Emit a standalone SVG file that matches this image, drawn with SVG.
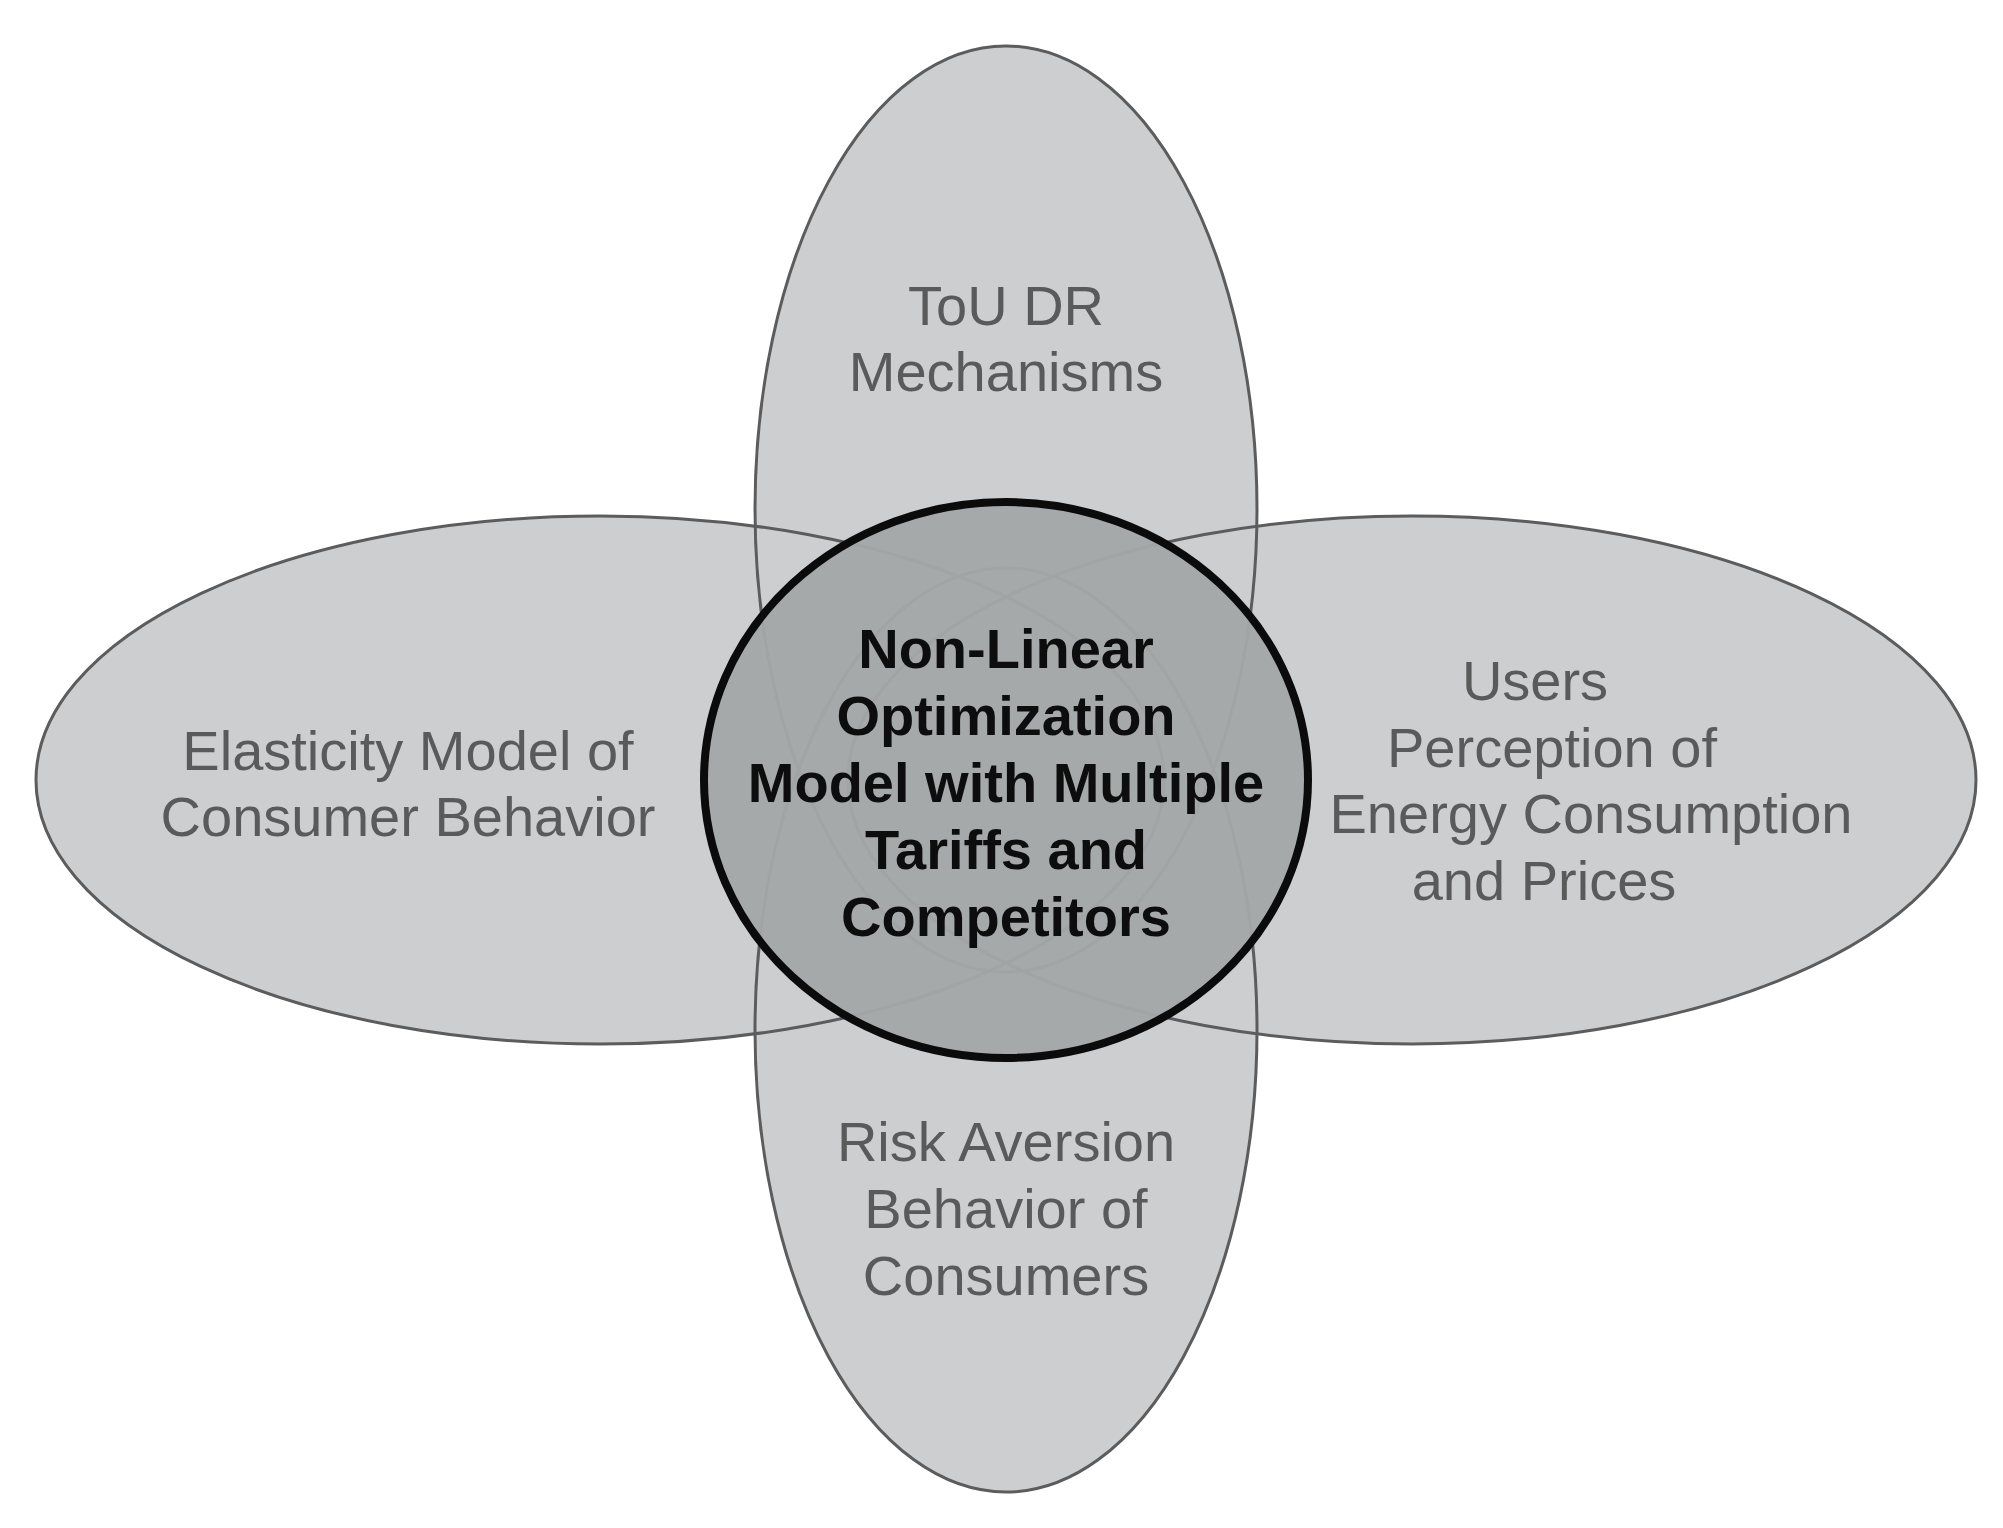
<svg xmlns="http://www.w3.org/2000/svg" width="2003" height="1528" viewBox="0 0 2003 1528">
  <style>
    .petal-fill { fill: #cdced0; stroke: none; }
    .petal-line { fill: none; stroke: #5c5c5c; stroke-width: 3; }
    .core { fill: #a4a7a8; fill-opacity: 0.965; stroke: #0b0b0b; stroke-width: 8; }
    .lbl { font-family: "Liberation Sans", Arial, Helvetica, sans-serif; font-size: 56px; fill: #5a5a5a; text-anchor: middle; }
    .core-lbl { font-family: "Liberation Sans", Arial, Helvetica, sans-serif; font-size: 56px; font-weight: bold; fill: #0d0d0d; text-anchor: middle; }
  </style>
  <rect x="0" y="0" width="2003" height="1528" fill="#ffffff"/>
  <g id="petal-fills">
    <ellipse class="petal-fill" cx="1006" cy="509" rx="251" ry="463"/>
    <ellipse class="petal-fill" cx="1006" cy="1030" rx="251" ry="462"/>
    <ellipse class="petal-fill" cx="600" cy="780" rx="564" ry="264"/>
    <ellipse class="petal-fill" cx="1412" cy="780" rx="564" ry="264"/>
  </g>
  <g id="node-top">
    <ellipse class="petal-line" cx="1006" cy="509" rx="251" ry="463"/>
    <text class="lbl" x="1006" y="325">ToU DR</text>
    <text class="lbl" x="1006" y="391">Mechanisms</text>
  </g>
  <g id="node-bottom">
    <ellipse class="petal-line" cx="1006" cy="1030" rx="251" ry="462"/>
    <text class="lbl" x="1006" y="1161">Risk Aversion</text>
    <text class="lbl" x="1006" y="1228">Behavior of</text>
    <text class="lbl" x="1006" y="1295">Consumers</text>
  </g>
  <g id="node-left">
    <ellipse class="petal-line" cx="600" cy="780" rx="564" ry="264"/>
    <text class="lbl" x="408" y="770">Elasticity Model of</text>
    <text class="lbl" x="408" y="836">Consumer Behavior</text>
  </g>
  <g id="node-right">
    <ellipse class="petal-line" cx="1412" cy="780" rx="564" ry="264"/>
    <text class="lbl" x="1535" y="700">Users</text>
    <text class="lbl" x="1552" y="767">Perception of</text>
    <text class="lbl" x="1591" y="833">Energy Consumption</text>
    <text class="lbl" x="1544" y="900">and Prices</text>
  </g>
  <g id="node-center">
    <ellipse class="core" cx="1006" cy="780" rx="302" ry="278"/>
    <text class="core-lbl" x="1006" y="668">Non-Linear</text>
    <text class="core-lbl" x="1006" y="735">Optimization</text>
    <text class="core-lbl" x="1006" y="802">Model with Multiple</text>
    <text class="core-lbl" x="1006" y="869">Tariffs and</text>
    <text class="core-lbl" x="1006" y="936">Competitors</text>
  </g>
  <g id="connectors"></g>
</svg>
